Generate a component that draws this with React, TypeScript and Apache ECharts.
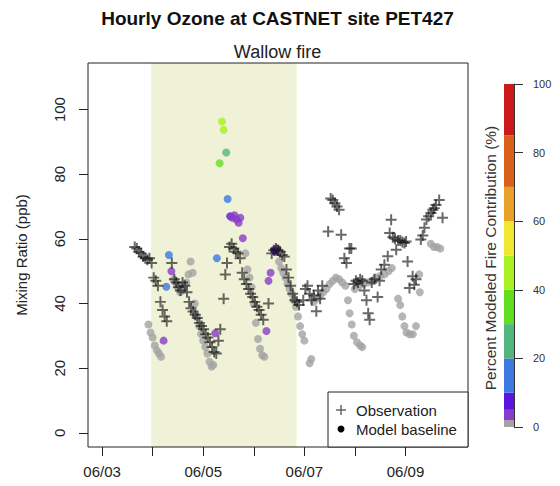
import React, { useEffect, useRef } from "react";
import * as echarts from "echarts";

// hours since 06/03 00:00
const dayLabels = ["06/03", "06/04", "06/05", "06/06", "06/07", "06/08", "06/09"];
const dayTicks = [0, 24, 48, 72, 96, 120, 144];
const labeledTicks = [0, 48, 96, 144];
const yTicks = [0, 20, 40, 60, 80, 100];
const fireStart = 23.3;
const fireEnd = 92.3;

// Observation [hour, ppb]
const obsData: [number, number][] = [
  [15.5, 57.5], [16.5, 57], [17.5, 56], [18.5, 55.5], [19.5, 54.5], [20.5, 54], [21.5, 53.5], [22.5, 54], [23.5, 52.5],
  [24.5, 48], [25.5, 47], [26.5, 45.5], [27.7, 40.5], [28.7, 38], [29.7, 36], [30.7, 34.5],
  [33.1, 52.5], [34.3, 47.5], [35.2, 46.5], [36.2, 45], [37.2, 44], [38.2, 46.5], [39.3, 45.5], [40.3, 43.5], [41.3, 40.5],
  [42.2, 38.5], [43.2, 37.5], [44.2, 36.5], [45.2, 35.5], [46.2, 34], [47.2, 33], [48.2, 32], [49.2, 30.5], [50.2, 29.5],
  [51.2, 28], [52.2, 26.5], [53.2, 25], [54.2, 24.5], [55.2, 28.5], [56.1, 32],
  [57.7, 41.5], [58.5, 49], [59.3, 52.5], [60.5, 57.5], [61.5, 58.5], [62.5, 57], [63.5, 56], [64.5, 55.5], [65.5, 54],
  [66.5, 49.5], [67.5, 47.5], [68.5, 46], [69.5, 44.5], [70.5, 43], [71.5, 42], [72.5, 40.5], [73.5, 39], [74.5, 38], [75.5, 36.5], [76.5, 35],
  [79, 40], [80.5, 55.5], [81.5, 56.5], [82.5, 57], [83.5, 56.5], [84.5, 56], [85.5, 55], [86.5, 54.5],
  [87.5, 50.5], [88.5, 48], [89.5, 45.5], [90.5, 43], [91.5, 41], [92.5, 40.5], [93.5, 39.5],
  [95.5, 41], [96.5, 44.5], [97.5, 45.5], [98.5, 43], [99.5, 41], [100.5, 42.5], [101.7, 37.6], [102.5, 44], [103.5, 41.5], [104.5, 45.5],
  [107.3, 62.3], [108.5, 72.5], [109.5, 72], [110.5, 71], [111.5, 70], [112.5, 69], [113.5, 61.3],
  [115, 54], [116, 52.5], [117.4, 57], [118.3, 57],
  [119.5, 46], [120.5, 47], [121.5, 46.5], [122.5, 47.5], [123.5, 47], [124.5, 44], [125.5, 41], [126.3, 37], [127, 35],
  [128, 46.5], [129.3, 47.5], [130.8, 42], [131.7, 47],
  [132.5, 50.5], [134, 52], [135.6, 54.6], [136.5, 61.8], [137.2, 65.9], [138, 60.5], [139, 60], [139.6, 56.6],
  [140.5, 59.5], [141.5, 59.5], [142.5, 59], [143.5, 58.7], [144.3, 59.2],
  [145, 53], [145.9, 44.8], [147.4, 48.4], [148.2, 45.8], [149, 47.5],
  [151.3, 59.8], [152.2, 61], [153, 63.4], [154, 66], [155, 67], [156.1, 68], [157, 69], [157.7, 69.5], [158.5, 70.5], [160, 72], [161.6, 66.5],
];

// Model baseline [hour, ppb, percent fire contribution]
const modelData: [number, number, number][] = [
  [22, 33.5, 0], [23, 31, 0], [24, 29.5, 0], [25, 27, 0], [26, 25.5, 0], [27, 24.5, 0], [28, 23.5, 0],
  [29.2, 28.5, 4], [30.5, 45.2, 15], [31.7, 55, 15], [32.9, 50, 4],
  [34, 47.5, 0], [35, 46.5, 0], [36, 45, 0], [37, 43.5, 0], [38, 44, 0], [39, 45.5, 0], [40, 46.5, 0], [41, 49, 0], [42, 53, 0], [43, 49.5, 0],
  [44, 40, 0], [45, 36, 0], [46, 33, 0], [47, 30.5, 0], [48, 28.5, 0], [49, 26.5, 0], [50, 24.5, 0], [51, 22, 0], [52, 20.5, 0], [52.8, 21, 0],
  [53.7, 30.8, 4], [54.5, 54, 15], [55.8, 83.4, 35], [56.9, 96.3, 45], [57.7, 93.7, 43], [58.9, 86.7, 25], [59.6, 72.3, 15],
  [60.8, 67, 7], [61.8, 66.5, 4], [62.8, 67.3, 4], [63.8, 66, 4], [64.8, 65, 4], [65.6, 66.5, 4], [66.8, 60.2, 4],
  [68, 55.5, 0], [69, 50.5, 0], [70, 48, 0], [71, 45, 0], [72, 40, 0], [73, 34, 0], [74, 29, 0], [75, 26, 0], [76, 24, 0], [77, 23.5, 0],
  [78, 31.5, 4], [79, 47, 4], [80, 49.5, 4], [81.5, 56.5, 4], [82.3, 56, 7], [83, 57, 4],
  [84, 53, 0], [85, 51, 0], [86, 49.5, 0], [87, 48, 0], [88, 46, 0], [89, 44.5, 0], [90, 43, 0], [91, 41, 0], [92, 39, 0],
  [93, 36, 0], [94, 33, 0], [95, 30.5, 0], [96, 28.5, 0], [98.5, 21.5, 0], [99.3, 22.8, 0],
  [100.5, 40.5, 0], [102, 41.5, 0], [103.5, 42.5, 0], [105, 43.5, 0], [106.5, 44.5, 0], [108, 46, 0], [109.5, 47, 0],
  [111, 48, 0], [112.5, 47.5, 0], [114, 46.5, 0], [115.5, 45.5, 0],
  [116.7, 41, 0], [117.5, 37, 0], [118.5, 33.5, 0], [119.5, 30, 0], [121, 28, 0], [122.5, 27, 0], [123.5, 26.5, 0],
  [120, 44.5, 0], [122, 45.5, 0], [124, 46, 0], [126, 46.5, 0], [128, 47, 0], [130, 48, 0], [132, 48.5, 0], [134, 49, 0], [136, 50, 0], [137.5, 51, 0],
  [140.5, 41.5, 0], [141.5, 39.5, 0], [142.5, 36, 0], [143.5, 33, 0], [144.5, 31, 0], [146, 30.5, 0], [147.5, 30.5, 0], [149, 33, 0],
  [150.5, 49, 0], [150.8, 43.5, 0],
  [156, 58.5, 0], [157.5, 57.5, 0], [159, 57.5, 0], [160.5, 57, 0],
];

// Colour scale of fire contribution (%)
const cbBreaks = [0, 2, 5, 10, 20, 30, 40, 50, 60, 70, 85, 100];
const cbColors = ["#a3a3a3", "#8a3cc8", "#5a14e2", "#3c78e0", "#52b67e", "#62de22", "#a8f022", "#f0e830", "#e8a028", "#d8601a", "#cc1a1a"];

const FONT = '"Liberation Sans", Arial, Helvetica, sans-serif';
const plusPath = "path://M0,4.1 L10,4.1 L10,5.9 L0,5.9 Z M4.1,0 L5.9,0 L5.9,10 L4.1,10 Z";

export default function App() {
  const ref = useRef<HTMLDivElement>(null);
  useEffect(() => {
    if (!ref.current) return;
    const chart = echarts.init(ref.current, undefined, { renderer: "svg" });
    const pieces = cbColors.map((c, i) =>
      i === cbColors.length - 1
        ? { gte: cbBreaks[i], lte: cbBreaks[i + 1], color: c }
        : { gte: cbBreaks[i], lt: cbBreaks[i + 1], color: c }
    );
    const cbSeries = cbColors.map((c, i) => ({
      type: "bar",
      xAxisIndex: 1,
      yAxisIndex: 1,
      stack: "cb",
      barWidth: 10,
      barCategoryGap: "0%",
      silent: true,
      itemStyle: { color: c },
      data: [cbBreaks[i + 1] - cbBreaks[i]],
    }));
    const option: any = {
      animation: false,
      textStyle: { fontFamily: FONT },
      grid: [
        { left: 88, top: 63, width: 380, height: 384, show: true, borderColor: "#222", borderWidth: 1, backgroundColor: "transparent", z: 3 },
        { left: 504, top: 84, width: 10, height: 343 },
      ],
      xAxis: [
        {
          type: "value",
          gridIndex: 0,
          min: -6.68,
          max: 173.68,
          axisLine: { show: false, onZero: false },
          splitLine: { show: false },
          axisTick: { show: true, customValues: dayTicks, length: 9, lineStyle: { color: "#222" } },
          axisLabel: {
            customValues: labeledTicks,
            formatter: (v: number) => dayLabels[Math.round(v / 24)] ?? "",
            fontSize: 15,
            color: "#222",
            margin: 17,
            fontFamily: FONT,
          },
        },
        { type: "category", gridIndex: 1, data: [""], show: false },
      ],
      yAxis: [
        {
          type: "value",
          gridIndex: 0,
          min: -4.4,
          max: 114.4,
          axisLine: { show: false, onZero: false },
          splitLine: { show: false },
          axisTick: { show: true, customValues: yTicks, length: 9, lineStyle: { color: "#222" } },
          axisLabel: { customValues: yTicks, rotate: 90, fontSize: 15, color: "#222", margin: 21, fontFamily: FONT },
          name: "Mixing Ratio (ppb)",
          nameLocation: "middle",
          nameGap: 59,
          nameTextStyle: { fontSize: 15, color: "#222", fontFamily: FONT },
        },
        {
          type: "value",
          gridIndex: 1,
          min: 0,
          max: 100,
          interval: 20,
          position: "right",
          axisLine: { show: true, onZero: false, lineStyle: { color: "#333" } },
          splitLine: { show: false },
          axisTick: { show: true, length: 9, lineStyle: { color: "#333" } },
          axisLabel: { fontSize: 11, color: "#333", margin: 19, fontFamily: FONT },
        },
      ],
      visualMap: { type: "piecewise", show: false, seriesIndex: 1, dimension: 2, pieces },
      series: [
        {
          type: "scatter",
          name: "fire",
          z: 1,
          data: [],
          markArea: {
            silent: true,
            itemStyle: { color: "#f0f2d7" },
            data: [[{ xAxis: fireStart }, { xAxis: fireEnd }]],
          },
        },
        {
          type: "scatter",
          name: "Model baseline",
          symbol: "circle",
          symbolSize: 8,
          z: 2,
          data: modelData,
        },
        {
          type: "scatter",
          name: "Observation",
          symbol: plusPath,
          symbolSize: 11,
          z: 2,
          itemStyle: { color: "rgba(20,20,20,0.8)" },
          data: obsData,
        },
        ...cbSeries,
      ],
      graphic: [
        {
          type: "text",
          x: 277.5,
          y: 18,
          style: { text: "Hourly Ozone at CASTNET site PET427", align: "center", verticalAlign: "middle", font: `bold 19px ${FONT}`, fill: "#111" },
        },
        {
          type: "text",
          x: 277.5,
          y: 52,
          style: { text: "Wallow fire", align: "center", verticalAlign: "middle", font: `18px ${FONT}`, fill: "#222" },
        },
        {
          type: "text",
          x: 490,
          y: 258,
          rotation: Math.PI / 2,
          style: { text: "Percent Modeled Fire Contribution (%)", align: "center", verticalAlign: "middle", font: `15.5px ${FONT}`, fill: "#333" },
        },
        {
          type: "rect",
          z: 10,
          shape: { x: 328, y: 392, width: 140, height: 55 },
          style: { fill: "#fff", stroke: "#222", lineWidth: 1 },
        },
        {
          type: "line",
          z: 11,
          shape: { x1: 336, y1: 410, x2: 346, y2: 410 },
          style: { stroke: "#666", lineWidth: 1.5 },
        },
        {
          type: "line",
          z: 11,
          shape: { x1: 341, y1: 405, x2: 341, y2: 415 },
          style: { stroke: "#666", lineWidth: 1.5 },
        },
        {
          type: "circle",
          z: 11,
          shape: { cx: 341, cy: 429, r: 3.5 },
          style: { fill: "#000" },
        },
        {
          type: "text",
          z: 11,
          x: 356,
          y: 410,
          style: { text: "Observation", align: "left", verticalAlign: "middle", font: `15px ${FONT}`, fill: "#222" },
        },
        {
          type: "text",
          z: 11,
          x: 356,
          y: 429,
          style: { text: "Model baseline", align: "left", verticalAlign: "middle", font: `15px ${FONT}`, fill: "#222" },
        },
      ],
    };
    chart.setOption(option);
    return () => chart.dispose();
  }, []);
  return <div ref={ref} style={{ position: "absolute", left: 0, top: 0, width: 560, height: 486 }} />;
}
